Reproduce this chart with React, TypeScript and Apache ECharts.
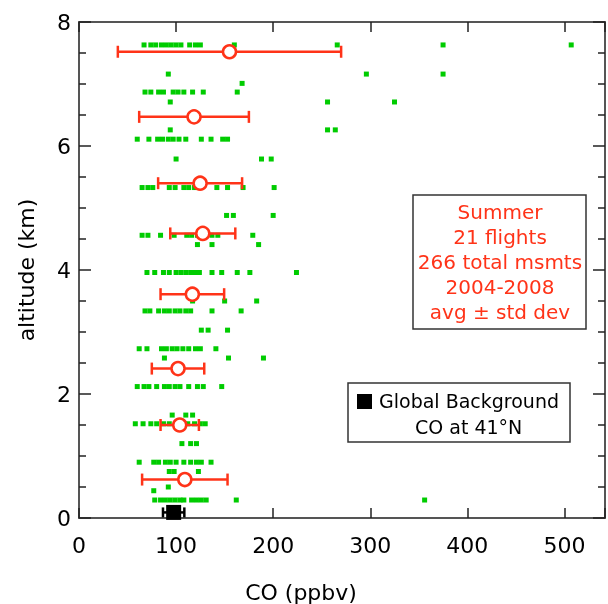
import React, { useEffect, useRef } from "react";
import * as echarts from "echarts";

// Individual measurements: altitude (km) of each row and CO values (ppbv) in that row
const rowAlt = [7.63, 7.16, 7.01, 6.87, 6.71, 6.26, 6.11, 5.79, 5.33, 4.88, 4.56, 4.41, 3.96, 3.5, 3.34, 3.03, 2.73, 2.58, 2.12, 1.66, 1.52, 1.2, 0.9, 0.75, 0.5, 0.44, 0.29];
const rowCO = [
  [67, 74, 79, 85, 90, 95, 100, 105, 114, 120, 125, 160, 266, 375, 507],
  [92, 296, 375],
  [168],
  [68, 74, 82, 87, 97, 102, 108, 117, 128, 163],
  [94, 256, 325],
  [94, 256, 264],
  [60, 72, 81, 86, 92, 97, 103, 110, 126, 136, 148, 153],
  [100, 188, 198],
  [65, 71, 76, 93, 99, 108, 113, 119, 142, 153, 169, 201],
  [152, 159, 200],
  [65, 71, 84, 98, 111, 116, 122, 127, 137, 143, 179],
  [122, 137, 185],
  [70, 78, 87, 93, 100, 105, 110, 115, 120, 124, 137, 147, 163, 176, 224],
  [117, 150, 183],
  [68, 73, 82, 88, 93, 99, 104, 110, 115, 137, 167],
  [126, 133, 153],
  [62, 70, 85, 90, 96, 101, 107, 113, 120, 125, 141],
  [88, 154, 190],
  [60, 67, 72, 80, 88, 93, 99, 104, 113, 122, 128, 147],
  [96, 110, 117],
  [58, 66, 74, 80, 87, 93, 100, 112, 119, 125, 130],
  [106, 115, 121],
  [62, 77, 82, 89, 94, 100, 108, 115, 121, 126, 136],
  [93, 98, 123],
  [92],
  [77],
  [78, 84, 89, 94, 99, 104, 108, 116, 121, 126, 131, 162, 356],
];

// Averages ± standard deviation per altitude bin
const meanAlt = [7.52, 6.47, 5.4, 4.59, 3.61, 2.41, 1.5, 0.62];
const meanCO = [155, 118.5, 124.75, 127.5, 116.75, 102, 103.75, 109];
const stdCO = [115, 56.5, 43.25, 33.5, 32.75, 27, 19.75, 44];

// Global background CO at 41°N
const bgCO = 97.5;
const bgStd = 11;
const bgAlt = 0.09;

const xTicks = [0, 100, 200, 300, 400, 500];
const yTicks = [0, 2, 4, 6, 8];

const RED = "#ff3318";
const GREEN = "#00cc00";
const FONT = "DejaVu Sans";

function errorBarRender(color: string, cap: number) {
  return (params: any, api: any) => {
    const lo = api.coord([api.value(0), api.value(2)]);
    const hi = api.coord([api.value(1), api.value(2)]);
    const st = { stroke: color, lineWidth: 2.5 };
    return {
      type: "group",
      children: [
        { type: "line", shape: { x1: lo[0], y1: lo[1], x2: hi[0], y2: hi[1] }, style: st },
        { type: "line", shape: { x1: lo[0], y1: lo[1] - cap, x2: lo[0], y2: lo[1] + cap }, style: st },
        { type: "line", shape: { x1: hi[0], y1: hi[1] - cap, x2: hi[0], y2: hi[1] + cap }, style: st },
      ],
    };
  };
}

export default function App() {
  const ref = useRef<HTMLDivElement>(null);
  useEffect(() => {
    if (!ref.current) return;
    const chart = echarts.init(ref.current, null, { renderer: "svg" });

    const points: number[][] = [];
    rowAlt.forEach((a, i) => rowCO[i].forEach((c) => points.push([c, a])));
    const bars = meanAlt.map((a, i) => [meanCO[i] - stdCO[i], meanCO[i] + stdCO[i], a]);
    const means = meanAlt.map((a, i) => [meanCO[i], a]);

    const xMin = xTicks[0];
    const yMin = yTicks[0];
    const xAxisBase = {
      type: "value",
      min: xMin,
      max: 541.8,
      interval: 100,
      splitLine: { show: false },
      axisLine: { show: true, onZero: false, lineStyle: { color: "#555", width: 2 } },
      axisTick: { show: true, inside: true, length: 10, lineStyle: { color: "#222", width: 1.5 } },
    };
    const yAxisBase = {
      type: "value",
      min: yMin,
      max: yTicks[yTicks.length - 1],
      interval: 2,
      splitLine: { show: false },
      axisLine: { show: true, onZero: false, lineStyle: { color: "#555", width: 2 } },
      axisTick: { show: true, inside: true, length: 12, lineStyle: { color: "#222", width: 1.5 } },
      minorTick: { show: true, splitNumber: 4, length: 7, lineStyle: { color: "#222", width: 1.5 } },
      minorSplitLine: { show: false },
    };

    chart.setOption({
      animation: false,
      grid: { left: 79, top: 22, width: 531, height: 496, containLabel: false },
      xAxis: [
        {
          ...xAxisBase,
          position: "bottom",
          axisLabel: {
            show: true,
            fontSize: 22,
            fontFamily: FONT,
            color: "#000",
            margin: 16,
            formatter: (v: number) => (xTicks.includes(v) ? String(v) : ""),
          },
        },
        { ...xAxisBase, position: "top", axisLabel: { show: false } },
      ],
      yAxis: [
        {
          ...yAxisBase,
          position: "left",
          axisLabel: {
            show: true,
            fontSize: 22,
            fontFamily: FONT,
            color: "#000",
            margin: 8,
            formatter: (v: number) => (yTicks.includes(v) ? String(v) : ""),
          },
        },
        { ...yAxisBase, position: "right", axisLabel: { show: false } },
      ],
      series: [
        {
          type: "scatter",
          data: points,
          symbol: "rect",
          symbolSize: 5,
          itemStyle: { color: GREEN, opacity: 1 },
          z: 2,
        },
        {
          type: "custom",
          data: bars,
          encode: { x: [0, 1], y: 2 },
          renderItem: errorBarRender(RED, 6),
          z: 3,
        },
        {
          type: "scatter",
          data: means,
          symbol: "circle",
          symbolSize: 13,
          itemStyle: { color: "#fff", borderColor: RED, borderWidth: 2.5, opacity: 1 },
          z: 4,
        },
        {
          type: "custom",
          data: [[bgCO - bgStd, bgCO + bgStd, bgAlt]],
          encode: { x: [0, 1], y: 2 },
          renderItem: errorBarRender("#000", 5),
          clip: false,
          z: 3,
        },
        {
          type: "scatter",
          data: [[bgCO, bgAlt]],
          symbol: "rect",
          symbolSize: 15,
          itemStyle: { color: "#000", opacity: 1 },
          clip: false,
          z: 4,
        },
      ],
      graphic: [
        {
          type: "text",
          x: 26,
          y: 270,
          rotation: Math.PI / 2,
          style: { text: "altitude (km)", font: `22px "${FONT}"`, fill: "#000", align: "center", verticalAlign: "middle" },
        },
        {
          type: "text",
          x: 301,
          y: 592,
          style: { text: "CO (ppbv)", font: `22px "${FONT}"`, fill: "#000", align: "center", verticalAlign: "middle" },
        },
        {
          type: "rect",
          shape: { x: 413, y: 195, width: 173, height: 134 },
          style: { fill: "#fff", stroke: "#333", lineWidth: 1.5 },
          z: 10,
        },
        {
          type: "text",
          x: 500,
          y: 262,
          z: 11,
          style: {
            text: "Summer\n21 flights\n266 total msmts\n2004-2008\navg ± std dev",
            font: `20px "${FONT}"`,
            lineHeight: 25,
            fill: RED,
            align: "center",
            verticalAlign: "middle",
          },
        },
        {
          type: "rect",
          shape: { x: 348, y: 383, width: 222, height: 59 },
          style: { fill: "#fff", stroke: "#333", lineWidth: 1.5 },
          z: 10,
        },
        {
          type: "rect",
          shape: { x: 357, y: 394, width: 15, height: 15 },
          style: { fill: "#000" },
          z: 11,
        },
        {
          type: "text",
          x: 379,
          y: 401,
          z: 11,
          style: { text: "Global Background", font: `19px "${FONT}"`, fill: "#000", align: "left", verticalAlign: "middle" },
        },
        {
          type: "text",
          x: 415,
          y: 427,
          z: 11,
          style: { text: "CO at 41°N", font: `19px "${FONT}"`, fill: "#000", align: "left", verticalAlign: "middle" },
        },
      ],
    });
    return () => chart.dispose();
  }, []);
  return <div ref={ref} style={{ position: "fixed", left: 0, top: 0, width: 608, height: 604 }} />;
}
